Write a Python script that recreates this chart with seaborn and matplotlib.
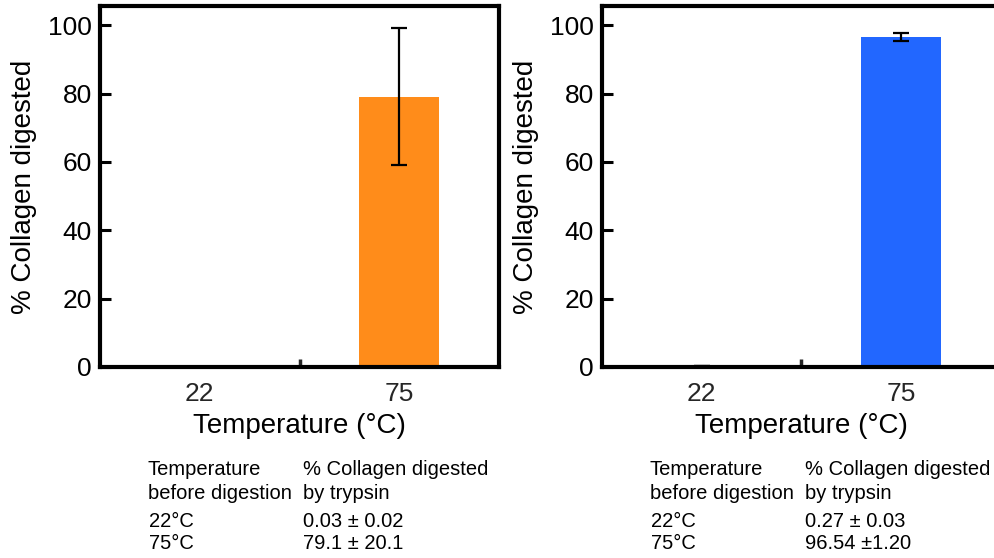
import matplotlib
matplotlib.use("Agg")
import matplotlib.pyplot as plt
import seaborn as sns
import pandas as pd

# ---- data ----
categories = ["22", "75"]
left_values = [0.03, 79.1]
left_errors = [0.02, 20.1]
right_values = [0.27, 96.54]
right_errors = [0.03, 1.20]
yticks = [0, 20, 40, 60, 80, 100]
table_header = [["Temperature", "before digestion"], ["% Collagen digested", "by trypsin"]]
left_rows = [["22°C", "0.03 ± 0.02"], ["75°C", "79.1 ± 20.1"]]
right_rows = [["22°C", "0.27 ± 0.03"], ["75°C", "96.54 ±1.20"]]

sns.set_theme(style="white")
plt.rcParams["font.family"] = ["Liberation Sans", "DejaVu Sans"]

fig = plt.figure(figsize=(9.95, 5.58), dpi=100)

W, H = 995.0, 558.0
def add_axes(left_px, top_px, right_px, bottom_px):
    return fig.add_axes([left_px / W, 1 - bottom_px / H,
                         (right_px - left_px) / W, (bottom_px - top_px) / H])

ax1 = add_axes(100, 6, 499, 367)
ax2 = add_axes(602, 6, 1001, 367)

def draw(ax, values, errors, color):
    df = pd.DataFrame({"Temperature": categories, "value": values})
    sns.barplot(data=df, x="Temperature", y="value", color=color, width=0.4,
                saturation=1, errorbar=None, ax=ax, edgecolor="none")
    ax.errorbar(x=list(range(len(categories))), y=values, yerr=errors, fmt="none",
                ecolor="black", elinewidth=1.6, capsize=6, capthick=1.6, zorder=5)
    ax.set_xlim(-0.5, len(categories) - 0.5)
    ax.set_ylim(0, 105.6)
    ax.set_yticks(yticks)
    ax.set_yticklabels([str(t) for t in yticks])
    ax.tick_params(axis="y", direction="in", length=8, width=2.2, labelsize=19,
                   pad=6, left=True, colors="black")
    ax.tick_params(axis="x", which="major", length=0, labelsize=19, pad=10.5)
    ax.set_xticks([0.5], minor=True)
    ax.tick_params(axis="x", which="minor", direction="in", length=6, width=2.5,
                   bottom=True)
    for s in ax.spines.values():
        s.set_visible(True)
        s.set_linewidth(3)
        s.set_color("black")
    ax.set_xlabel("Temperature (°C)", fontsize=20, labelpad=5, color="black")
    ax.set_ylabel("% Collagen digested", fontsize=20, labelpad=8, color="black")
    ax.grid(False)

draw(ax1, left_values, left_errors, "#FF8C1A")
draw(ax2, right_values, right_errors, "#2267FF")

# ---- tables ----
base_y = [475, 499, 527, 549]
def table(x1, x2, rows):
    fs = 14.5
    for i in range(2):
        fig.text(x1 / W, 1 - base_y[i] / H, table_header[0][i], fontsize=fs,
                 va="baseline", ha="left", color="black")
        fig.text(x2 / W, 1 - base_y[i] / H, table_header[1][i], fontsize=fs,
                 va="baseline", ha="left", color="black")
    for j, (a, b) in enumerate(rows):
        fig.text((x1 + 1) / W, 1 - base_y[2 + j] / H, a, fontsize=fs,
                 va="baseline", ha="left", color="black")
        fig.text(x2 / W, 1 - base_y[2 + j] / H, b, fontsize=fs,
                 va="baseline", ha="left", color="black")

table(148, 303, left_rows)
table(650, 805, right_rows)

fig.savefig("out.png", dpi=100)
